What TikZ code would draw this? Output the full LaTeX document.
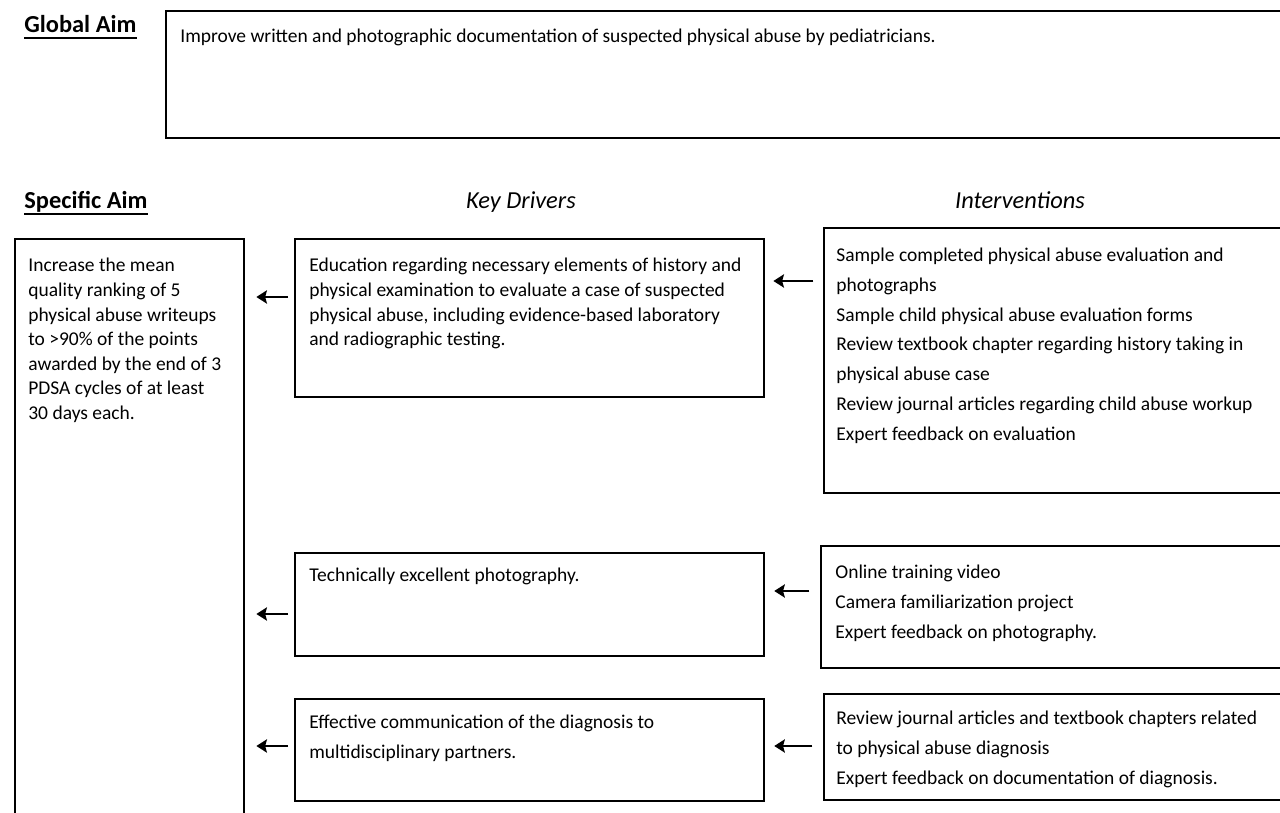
\documentclass[tikz,border=0pt]{standalone}
\usepackage{fontspec}
\setmainfont{Carlito}
\usetikzlibrary{positioning, arrows.meta}

\tikzset{
  box/.style={draw, line width=1.4pt, anchor=north west, inner sep=0pt},
  boxtext/.style={anchor=north west, inner sep=0pt, align=left,
                  font=\fontsize{11.1}{14}\selectfont},
  listtext/.style={boxtext, font=\fontsize{11.1}{16.9}\selectfont},
  heading/.style={inner sep=0pt, anchor=base west,
                  font=\fontsize{13.9}{16}\selectfont\bfseries},
  colhead/.style={inner sep=0pt, anchor=base,
                  font=\fontsize{13.9}{16}\selectfont\itshape},
  backarrow/.style={-{Stealth[length=6pt, width=7.5pt, inset=1pt]}, line width=1.5pt},
}

\begin{document}
\begin{tikzpicture}[x=0.02cm, y=-0.02cm]
  \useasboundingbox (0,0) rectangle (1280,813);
  \clip (0,0) rectangle (1280,813);

  % global aim
  \node[heading] (globalhead) at (24,33) {Global Aim};
  \draw[line width=1pt] ([yshift=-3pt]globalhead.base west) -- ([yshift=-3pt]globalhead.base east);
  \node[box, minimum width=1140*0.02cm, minimum height=127*0.02cm] (globalbox) at (165,10) {};
  \node[boxtext, anchor=base west] (globaltext) at (180,43)
    {Improve written and photographic documentation of suspected physical abuse by pediatricians.};

  % column headings
  \node[heading] (spechead) at (24,209) {Specific Aim};
  \draw[line width=1pt] ([yshift=-3pt]spechead.base west) -- ([yshift=-3pt]spechead.base east);
  \node[colhead] (drvhead) at (521,209) {Key Drivers};
  \node[colhead] (inthead) at (1020,209) {Interventions};

  % specific aim
  \node[box, minimum width=229*0.02cm, minimum height=600*0.02cm] (spec) at (14,238) {};
  \node[boxtext] (spectext) at (28,258) {Increase the mean\\quality ranking of 5\\physical abuse writeups\\to >90\% of the points\\awarded by the end of 3\\PDSA cycles of at least\\30 days each.};

  % key drivers
  \node[box, minimum width=469*0.02cm, minimum height=158*0.02cm] (drv1) at (294,238) {};
  \node[boxtext] (drv1text) at (309,258) {Education regarding necessary elements of history and\\physical examination to evaluate a case of suspected\\physical abuse, including evidence-based laboratory\\and radiographic testing.};
  \node[box, minimum width=469*0.02cm, minimum height=103*0.02cm] (drv2) at (294,552) {};
  \node[boxtext] (drv2text) at (309,568) {Technically excellent photography.};
  \node[box, minimum width=469*0.02cm, minimum height=102*0.02cm] (drv3) at (294,698) {};
  \node[listtext] (drv3text) at (309,715) {Effective communication of the diagnosis to\\multidisciplinary partners.};

  % interventions
  \node[box, minimum width=480*0.02cm, minimum height=265*0.02cm] (int1) at (823,227) {};
  \node[listtext] (int1text) at (836,248) {Sample completed physical abuse evaluation and\\photographs\\Sample child physical abuse evaluation forms\\Review textbook chapter regarding history taking in\\physical abuse case\\Review journal articles regarding child abuse workup\\Expert feedback on evaluation};
  \node[box, minimum width=480*0.02cm, minimum height=122*0.02cm] (int2) at (820,545) {};
  \node[listtext] (int2text) at (835,565) {Online training video\\Camera familiarization project\\Expert feedback on photography.};
  \node[box, minimum width=480*0.02cm, minimum height=106*0.02cm] (int3) at (823,693) {};
  \node[listtext] (int3text) at (836,711) {Review journal articles and textbook chapters related\\to physical abuse diagnosis\\Expert feedback on documentation of diagnosis.};

  % arrow levels
  \coordinate (lvlA) at (0,281);
  \coordinate (lvlB) at (0,297);
  \coordinate (lvlC) at (0,591);
  \coordinate (lvlD) at (0,614);
  \coordinate (lvlE) at (0,746);

  \draw[backarrow, shorten <=5.5pt, shorten >=4.5pt] (int1.west |- lvlA) -- (drv1.east |- lvlA);
  \draw[backarrow, shorten <=3.4pt, shorten >=6.2pt] (drv1.west |- lvlB) -- (spec.east |- lvlB);
  \draw[backarrow, shorten <=6pt, shorten >=5pt] (int2.west |- lvlC) -- (drv2.east |- lvlC);
  \draw[backarrow, shorten <=3.4pt, shorten >=6.2pt] (drv2.west |- lvlD) -- (spec.east |- lvlD);
  \draw[backarrow, shorten <=6pt, shorten >=5pt] (int3.west |- lvlE) -- (drv3.east |- lvlE);
  \draw[backarrow, shorten <=3.4pt, shorten >=6.2pt] (drv3.west |- lvlE) -- (spec.east |- lvlE);
\end{tikzpicture}
\end{document}
